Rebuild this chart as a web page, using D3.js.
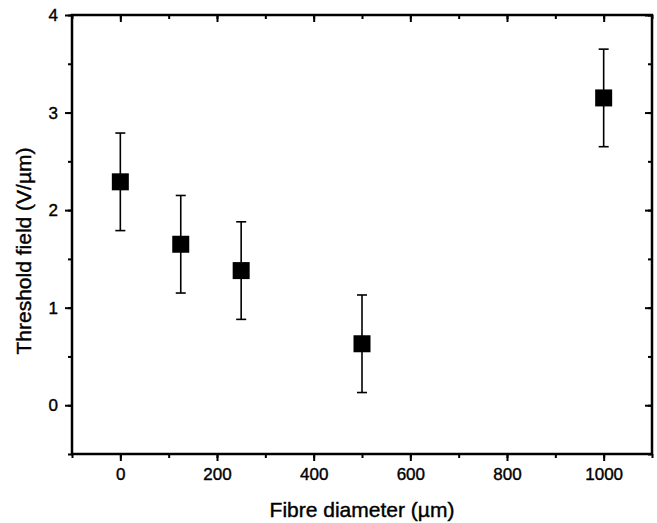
<!DOCTYPE html>
<html><head><meta charset="utf-8">
<script src="https://cdn.jsdelivr.net/npm/d3@7"></script>
<style>body{margin:0;background:#fff}svg{display:block}text{font-family:"Liberation Sans",Arial,Helvetica,sans-serif;fill:#000;stroke:#000;stroke-width:0.4px}</style>
</head><body><svg id="c" width="657" height="523"></svg>
<script>
const diameters = [0, 125, 250, 500, 1000];
const thresholds = [2.29, 1.65, 1.38, 0.63, 3.15];
const errors = [0.5, 0.5, 0.5, 0.5, 0.5];
const xTicks = [0, 200, 400, 600, 800, 1000];
const yTicks = [0, 1, 2, 3, 4];
const xLabel = "Fibre diameter (\u00b5m)";
const yLabel = "Threshold field (V/\u00b5m)";

const L = 72, R = 652, T = 15, B = 454;
const svg = d3.select("#c");
const x = d3.scaleLinear().domain([-100, 1100]).range([L, R]);
const y = d3.scaleLinear().domain([-0.5, 4]).range([B, T]);
const xMinor = d3.range(-100, 1101, 100);
const yMinor = d3.range(-0.5, 4.01, 0.5);

function styleAxis(g){
  g.selectAll(".domain").remove();
  g.selectAll("line").attr("stroke","#000").attr("stroke-width",2);
  g.selectAll("text").attr("font-size",17).style("font-family",'"Liberation Sans",Arial,sans-serif');
}
// minor ticks
svg.append("g").attr("transform",`translate(0,${B})`)
  .call(d3.axisBottom(x).tickValues(xMinor).tickSize(4).tickFormat("")).call(styleAxis);
svg.append("g").attr("transform",`translate(0,${T})`)
  .call(d3.axisBottom(x).tickValues(xMinor).tickSize(4).tickFormat("")).call(styleAxis);
svg.append("g").attr("transform",`translate(${L},0)`)
  .call(d3.axisLeft(y).tickValues(yMinor).tickSize(4).tickFormat("")).call(styleAxis);
svg.append("g").attr("transform",`translate(${R},0)`)
  .call(d3.axisLeft(y).tickValues(yMinor).tickSize(4).tickFormat("")).call(styleAxis);
// major ticks
svg.append("g").attr("transform",`translate(0,${B})`)
  .call(d3.axisBottom(x).tickValues(xTicks).tickSize(7).tickPadding(7).tickFormat(d3.format("d"))).call(styleAxis);
svg.append("g").attr("transform",`translate(0,${T})`)
  .call(d3.axisBottom(x).tickValues(xTicks).tickSize(7).tickFormat("")).call(styleAxis);
svg.append("g").attr("transform",`translate(${L},0)`)
  .call(d3.axisLeft(y).tickValues(yTicks).tickSize(7).tickPadding(7).tickFormat(d3.format("d"))).call(styleAxis);
svg.append("g").attr("transform",`translate(${R},0)`)
  .call(d3.axisLeft(y).tickValues(yTicks).tickSize(7).tickFormat("")).call(styleAxis);
// frame
svg.append("rect").attr("x",L).attr("y",T).attr("width",R-L).attr("height",B-T)
  .attr("fill","none").attr("stroke","#000").attr("stroke-width",2.5);

// error bars
const eb = svg.append("g").attr("stroke","#000").attr("stroke-width",1.6);
diameters.forEach((d,i)=>{
  const cx = x(d), y1 = y(thresholds[i]+errors[i]), y0 = y(thresholds[i]-errors[i]);
  eb.append("line").attr("x1",cx).attr("x2",cx).attr("y1",y1).attr("y2",y0);
  eb.append("line").attr("x1",cx-5).attr("x2",cx+5).attr("y1",y1).attr("y2",y1);
  eb.append("line").attr("x1",cx-5).attr("x2",cx+5).attr("y1",y0).attr("y2",y0);
});
const s = 17;
svg.append("g").selectAll("rect").data(diameters).join("rect")
  .attr("x",d=>x(d)-s/2).attr("y",(d,i)=>y(thresholds[i])-s/2)
  .attr("width",s).attr("height",s).attr("fill","#000");

svg.append("text").attr("x",362).attr("y",517).attr("text-anchor","middle")
  .attr("font-size",21).text(xLabel);
svg.append("text").attr("transform",`translate(31,251) rotate(-90)`).attr("text-anchor","middle")
  .attr("font-size",21).text(yLabel);
</script></body></html>
